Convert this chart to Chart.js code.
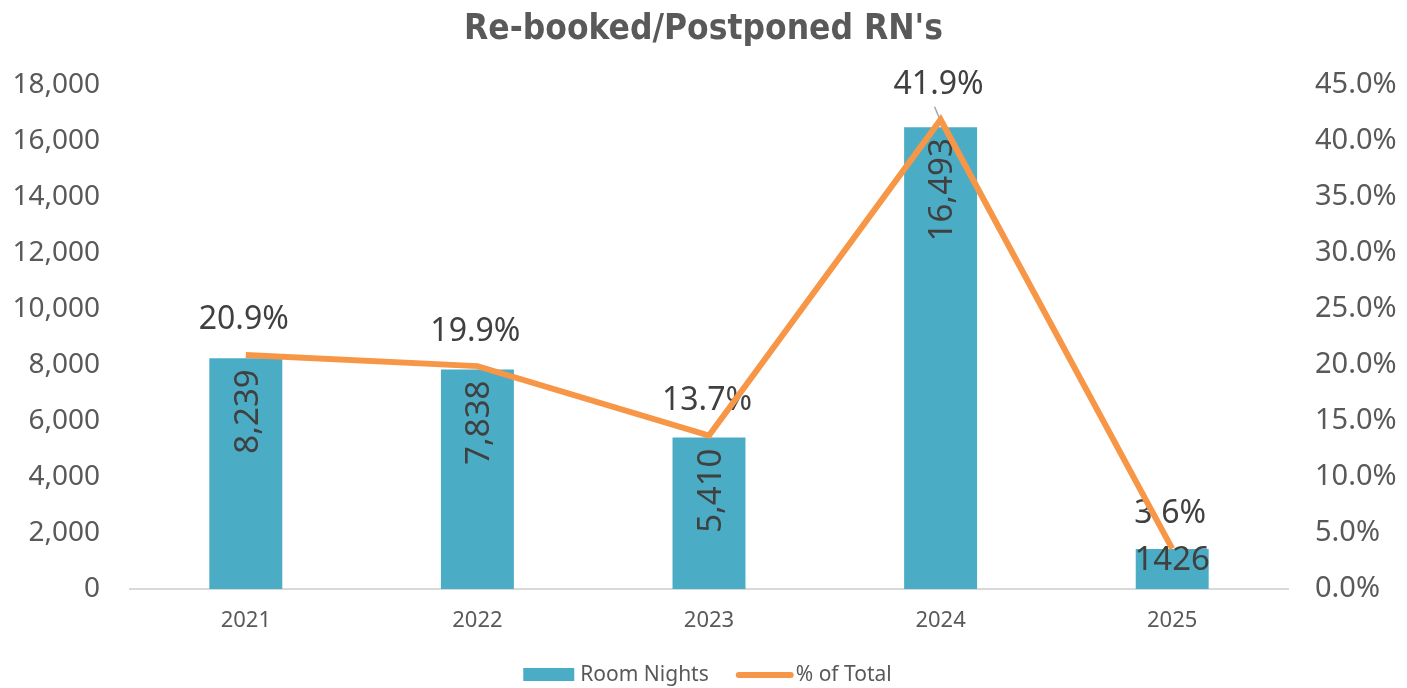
<!DOCTYPE html>
<html>
<head>
<meta charset="utf-8">
<script src="https://cdn.jsdelivr.net/npm/chart.js@4.4.0/dist/chart.umd.min.js"></script>
<style>
  html, body { margin: 0; padding: 0; background: #fff; }
  canvas { display: block; }
</style>
</head>
<body>
<canvas id="myChart" width="1407" height="688"></canvas>
<script>
'use strict';
/*------Chart Data------*/
let years = ['2021', '2022', '2023', '2024', '2025'];
let roomNights = [8239, 7838, 5410, 16493, 1426];
let roomNightLabels = ['8,239', '7,838', '5,410', '16,493', '1426'];
let pctOfTotal = [20.9, 19.9, 13.7, 41.9, 3.6];
let seriesNames = ['Room Nights', '% of Total'];

/*------Styles------*/
const barColor = '#4BACC6';
const lineColor = '#F79646';
const textGray = '#595959';
const labelDark = '#404040';
const bodyFont = "'Noto Sans', 'Open Sans', sans-serif";

/*------Data labels (drawn under the line, like the original)------*/
const dataLabels = {
  id: 'dataLabels',
  afterDatasetDraw(chart, args) {
    if (args.meta.type !== 'bar') return;
    const ctx = chart.ctx;
    const bars = args.meta.data;
    const points = chart.getDatasetMeta(1).data;
    ctx.save();
    ctx.fillStyle = labelDark;
    ctx.textBaseline = 'alphabetic';
    // room nights inside the bars
    let size = 33;
    let half = size * 0.36;
    ctx.font = size + 'px ' + bodyFont;
    bars.forEach((bar, i) => {
      const text = roomNightLabels[i];
      const w = ctx.measureText(text).width;
      if (bar.base - bar.y > w + 20) {
        ctx.save();
        ctx.translate(bar.x + half, bar.y + 11);
        ctx.rotate(-Math.PI / 2);
        ctx.textAlign = 'right';
        ctx.fillText(text, 0, 0);
        ctx.restore();
      } else {
        ctx.textAlign = 'center';
        ctx.fillText(text, bar.x, bar.y + 9 + half);
      }
    });
    // % labels above the line points
    size = 32;
    half = size * 0.36;
    ctx.font = size + 'px ' + bodyFont;
    const maxIdx = pctOfTotal.indexOf(Math.max(...pctOfTotal));
    points.forEach((pt, i) => {
      ctx.textAlign = 'center';
      ctx.fillText(pctOfTotal[i].toFixed(1) + '%', pt.x - 2, pt.y - 37 + half);
      if (i === maxIdx) {
        ctx.strokeStyle = '#A6A6A6';
        ctx.lineWidth = 1.5;
        ctx.beginPath();
        ctx.moveTo(pt.x - 6, pt.y - 13);
        ctx.lineTo(pt.x - 1, pt.y - 1);
        ctx.stroke();
      }
    });
    ctx.restore();
  }
};

/*------Legend row at the bottom------*/
const legendRow = {
  id: 'legendRow',
  afterDraw(chart) {
    const ctx = chart.ctx;
    const y = 675;
    ctx.save();
    ctx.font = '21px ' + bodyFont;
    ctx.fillStyle = textGray;
    ctx.textBaseline = 'middle';
    ctx.textAlign = 'left';
    const w1 = ctx.measureText(seriesNames[0]).width;
    const w2 = ctx.measureText(seriesNames[1]).width;
    const total = 51 + 6 + w1 + 27 + 58 + 2 + w2;
    let x = chart.width / 2 + 4 - total / 2;
    ctx.fillStyle = barColor;
    ctx.fillRect(x, y - 7, 51, 13);
    x += 57;
    ctx.fillStyle = textGray;
    ctx.fillText(seriesNames[0], x, y);
    x += w1 + 27;
    ctx.strokeStyle = lineColor;
    ctx.lineWidth = 6;
    ctx.lineCap = 'round';
    ctx.beginPath();
    ctx.moveTo(x + 3, y);
    ctx.lineTo(x + 55, y);
    ctx.stroke();
    x += 60;
    ctx.fillText(seriesNames[1], x, y);
    ctx.restore();
  }
};

/*------Chart------*/
const data = {
  labels: years,
  datasets: [
    {
      type: 'bar',
      label: seriesNames[0],
      data: roomNights,
      backgroundColor: barColor,
      yAxisID: 'y',
      order: 2,
      barPercentage: 0.315,
      categoryPercentage: 1,
    },
    {
      type: 'line',
      label: seriesNames[1],
      data: pctOfTotal,
      borderColor: lineColor,
      borderWidth: 6,
      pointRadius: 0,
      tension: 0,
      yAxisID: 'y1',
      order: 1,
    },
  ],
};

const config = {
  data: data,
  options: {
    responsive: false,
    animation: false,
    devicePixelRatio: 1,
    layout: { padding: 0 },
    plugins: {
      legend: { display: false },
      tooltip: { enabled: false },
      title: {
        display: true,
        text: "Re-booked/Postponed RN's",
        color: textGray,
        font: { family: "'DejaVu Sans Condensed', 'DejaVu Sans', sans-serif", size: 35, weight: 'bold' },
        padding: { top: 9, bottom: 34 },
      },
    },
    scales: {
      x: {
        offset: true,
        grid: { display: false, drawTicks: false },
        border: { display: true, color: '#D9D9D9', width: 2 },
        ticks: { color: textGray, font: { family: bodyFont, size: 22 }, padding: 19 },
        afterFit(scale) { scale.height = 99; },
      },
      y: {
        position: 'left',
        min: 0,
        max: 18000,
        grid: { display: false, drawTicks: false },
        border: { display: false },
        ticks: {
          stepSize: 2000,
          color: textGray,
          font: { family: bodyFont, size: 28 },
          padding: 30,
          callback: (v) => v.toLocaleString('en-US'),
        },
        afterFit(scale) { scale.width = 130; },
      },
      y1: {
        position: 'right',
        min: 0,
        max: 45,
        grid: { display: false, drawTicks: false },
        border: { display: false },
        ticks: {
          stepSize: 5,
          color: textGray,
          font: { family: bodyFont, size: 29 },
          padding: 27,
          callback: (v) => v.toFixed(1) + '%',
        },
        afterFit(scale) { scale.width = 119; },
      },
    },
  },
  plugins: [dataLabels, legendRow],
};

const myChart = new Chart(document.getElementById('myChart'), config);
</script>
</body>
</html>
